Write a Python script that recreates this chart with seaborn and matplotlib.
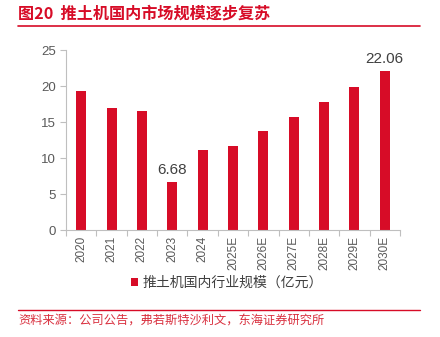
import matplotlib
matplotlib.use("Agg")
import matplotlib.pyplot as plt
import seaborn as sns
import pandas as pd
from matplotlib.lines import Line2D
from matplotlib.patches import Patch

years = ["2020", "2021", "2022", "2023", "2024", "2025E", "2026E", "2027E", "2028E", "2029E", "2030E"]
values = [19.3, 16.9, 16.5, 6.68, 11.1, 11.7, 13.75, 15.7, 17.8, 19.9, 22.06]
label_years = ["2023", "2030E"]
y_ticks = [0, 5, 10, 15, 20, 25]
series_name = "推土机国内行业规模（亿元）"
title = "图20  推土机国内市场规模逐步复苏"
source = "资料来源：公司公告，弗若斯特沙利文，东海证券研究所"

sns.set_theme(style="white")
plt.rcParams['font.family'] = ['Noto Sans CJK SC', 'DejaVu Sans']

RED = "#D70C27"
GRAY = "#595959"
AX = "#BFBFBF"

df = pd.DataFrame({"year": years, "value": values})

fig = plt.figure(figsize=(4.4, 3.37), dpi=100)
ax = fig.add_axes([0.15, 0.3175, 0.759, 0.534])
sns.barplot(data=df, x="year", y="value", color=RED, width=0.33, saturation=1, ax=ax, edgecolor="none")

ax.set_xlim(-0.5, len(years) - 0.5)
ax.set_ylim(0, 25)
ax.set_yticks(y_ticks)
ax.set_yticklabels([str(t) for t in y_ticks], fontfamily="Liberation Sans", fontsize=9.5, color=GRAY)
ax.set_xticks(range(len(years)))
ax.set_xticklabels(years, rotation=90, fontfamily="Liberation Sans", fontsize=8.5, color=GRAY)
ax.tick_params(axis="x", which="major", length=0, pad=4)
ax.set_xticks([i - 0.5 for i in range(len(years) + 1)], minor=True)
ax.tick_params(axis="x", which="minor", length=4, color=AX, width=0.8, direction="out", bottom=True)
ax.tick_params(axis="y", length=4, color=AX, width=0.8, direction="out", left=True, pad=3)
ax.set_xlabel("")
ax.set_ylabel("")
for s in ["top", "right"]:
    ax.spines[s].set_visible(False)
for s in ["left", "bottom"]:
    ax.spines[s].set_color(AX)
    ax.spines[s].set_linewidth(0.8)

for i, (yr, v) in enumerate(zip(years, values)):
    if yr in label_years:
        ax.text(i, v + 0.7, f"{v:.2f}", ha="center", va="bottom", fontsize=11,
                fontfamily="Liberation Sans", color="#404040")

# legend
handle = Patch(facecolor=RED, edgecolor="none")
fig.legend([handle], [series_name], loc="center", bbox_to_anchor=(0.515, 1 - 283 / 337),
           frameon=False, fontsize=10, handlelength=0.55, handleheight=0.55, handletextpad=0.3,
           labelcolor="#404040")

# title and source
fig.text(18 / 440, 1 - 14 / 337, title, fontsize=11.6, fontweight="bold", color=RED,
         ha="left", va="center")
fig.add_artist(Line2D([18 / 440, 420 / 440], [1 - 26 / 337, 1 - 26 / 337], color=RED, lw=1.2))
fig.add_artist(Line2D([18 / 440, 420 / 440], [1 - 310 / 337, 1 - 310 / 337], color=RED, lw=1.0))
fig.text(18 / 440, 1 - 321 / 337, source, fontsize=8.8, color="#D9303F", ha="left", va="center")

fig.savefig("out.png", dpi=100)
